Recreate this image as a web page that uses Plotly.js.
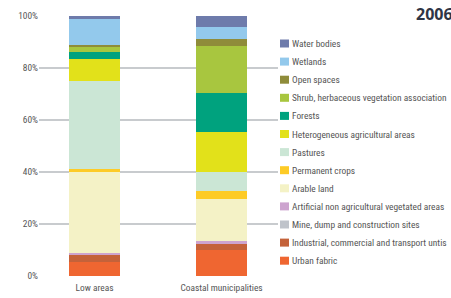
<!DOCTYPE html>
<html><head><meta charset="utf-8">
<script src="https://cdn.plot.ly/plotly-3.0.1.min.js"></script>
<style>body{margin:0;padding:0;background:#fff}#chart{width:451px;height:298px}</style>
</head><body><div id="chart"></div>
<script>
var categories = ["Low areas", "Coastal municipalities"];
var seriesNames = ["Urban fabric", "Industrial, commercial and transport untis", "Mine, dump and construction sites", "Artificial non agricultural vegetated areas", "Arable land", "Permanent crops", "Pastures", "Heterogeneous agricultural areas", "Forests", "Shrub, herbaceous vegetation association", "Open spaces", "Wetlands", "Water bodies"];
var seriesColors = ["#ef6631", "#c4623a", "#bfc3ca", "#cda4cf", "#f4f2c6", "#fdcb26", "#cbe6d5", "#e2e11a", "#00a27e", "#a8c63f", "#8f8c3a", "#93c9ec", "#6e7bab"];
var lowAreas = [5.4, 2.5, 0.1, 0.7, 31.3, 1.0, 33.9, 8.4, 2.7, 2.0, 0.7, 10.0, 1.3];
var coastal = [9.9, 2.3, 0.1, 1.0, 16.2, 3.1, 7.4, 15.3, 15.0, 18.0, 2.7, 4.7, 4.3];
var tickVals = [0, 20, 40, 60, 80, 100];
var tickLabels = ["0%", "20%", "40%", "60%", "80%", "100%"];
var chartTitle = "2006";

var FONT = '"Roboto Condensed", "Liberation Sans Narrow", sans-serif';
var ML = 39, MR = 173, MT = 16, MB = 22, W = 451, H = 298;
var PW = W - ML - MR, PH = H - MT - MB;
function px2x(p){ return (p - ML) / PW; }
function px2y(p){ return (H - MB - p) / PH; }

var traces = seriesNames.map(function(name, i){
  return {type:'bar', name:name, x:categories, y:[lowAreas[i], coastal[i]],
    marker:{color:seriesColors[i], line:{width:0}}, width:0.4, hoverinfo:'skip', showlegend:false};
});

var shapes = [], annotations = [];
var n = seriesNames.length;
for (var k = 0; k < n; k++) {
  var i = n - 1 - k;
  var cy = 43.5 + 18.1 * k;
  shapes.push({type:'rect', xref:'paper', yref:'paper', x0:px2x(280), x1:px2x(289), y0:px2y(cy+4), y1:px2y(cy-4),
    fillcolor:seriesColors[i], line:{width:0}});
  annotations.push({xref:'paper', yref:'paper', x:px2x(290.5), y:px2y(cy), xanchor:'left', yanchor:'middle',
    text:seriesNames[i], showarrow:false, borderpad:0, font:{family:FONT, size:9.4, color:'#555'}});
}
annotations.push({xref:'paper', yref:'paper', x:px2x(415), y:px2y(13.8), xanchor:'left', yanchor:'middle', borderpad:0,
  text:'<b>' + chartTitle + '</b>', showarrow:false, font:{size:16, color:'#2f3545', family:'"Open Sans", sans-serif'}});

var layout = {
  width:W, height:H, barmode:'stack', showlegend:false,
  margin:{l:ML, r:MR, t:MT, b:MB, pad:0},
  paper_bgcolor:'#fff', plot_bgcolor:'#fff',
  font:{family:FONT, size:9.4, color:'#555'},
  xaxis:{range:[-0.437, 1.445], showgrid:false, zeroline:false, showline:false, ticks:'', ticklabelstandoff:5, tickfont:{family:FONT, size:9.4, color:'#555'}},
  yaxis:{range:[0,100], tickmode:'array', tickvals:tickVals, ticktext:tickLabels, showgrid:true, gridcolor:'#c8cbce', gridwidth:1.5,
    zeroline:true, zerolinecolor:'rgba(0,0,0,0)', showline:false, ticks:'', tickfont:{family:FONT, size:9.4, color:'#555'}},
  shapes:shapes, annotations:annotations
};
Plotly.newPlot('chart', traces, layout, {staticPlot:true, displayModeBar:false});
</script></body></html>
